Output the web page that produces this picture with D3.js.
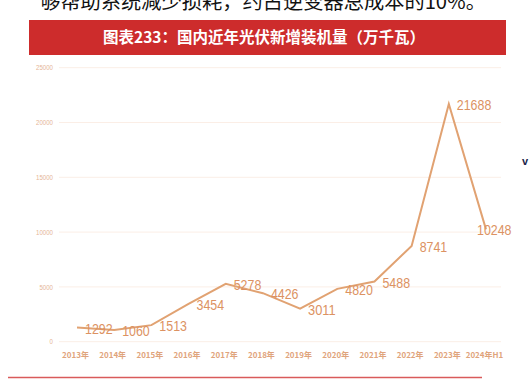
<!DOCTYPE html>
<html>
<head>
<meta charset="utf-8">
<script src="https://cdn.jsdelivr.net/npm/d3@7"></script>
<style>
  body { margin: 0; background: #fff; }
  svg { display: block; }
</style>
</head>
<body>
<div id="chart"></div>
<script>
  // data
  const years = ["2013年", "2014年", "2015年", "2016年", "2017年", "2018年", "2019年",
    "2020年", "2021年", "2022年", "2023年", "2024年H1"];
  const added = [1292, 1060, 1513, 3454, 5278, 4426, 3011, 4820, 5488, 8741, 21688, 10248];
  const yTicks = [0, 5000, 10000, 15000, 20000, 25000];

  const topText = "够帮助系统减少损耗，约占逆变器总成本的10%。";
  const title = "图表233：国内近年光伏新增装机量（万千瓦）";

  const width = 529,
    height = 384,
    margin = { top: 67.7, bottom: 42.3, left: 59, right: 28 };

  const cjk = "'Noto Sans CJK SC', 'Noto Sans', sans-serif";
  const lineColor = "#e1a272";

  const svg = d3.select("#chart")
    .append("svg")
    .attr("width", width)
    .attr("height", height);

  // sentence cut off at the top of the page
  svg.append("text")
    .attr("x", 40)
    .attr("y", 9)
    .attr("font-family", cjk)
    .attr("font-size", 20)
    .attr("fill", "#111")
    .attr("textLength", 446)
    .attr("lengthAdjust", "spacingAndGlyphs")
    .text(topText);

  // red title banner
  svg.append("rect")
    .attr("x", 29)
    .attr("y", 20)
    .attr("width", 477)
    .attr("height", 35)
    .attr("fill", "#cd2c2c");

  svg.append("text")
    .attr("x", 264)
    .attr("y", 38.5)
    .attr("text-anchor", "middle")
    .attr("dominant-baseline", "middle")
    .attr("font-family", cjk)
    .attr("font-weight", "bold")
    .attr("font-size", 15.5)
    .attr("fill", "#fff")
    .text(title);

  // + SCALES
  const xScale = d3.scalePoint()
    .domain(years)
    .range([77, 486]);

  const yScale = d3.scaleLinear()
    .domain([0, 25000])
    .range([height - margin.bottom, margin.top]);

  // grid lines
  svg.append("g")
    .selectAll("line")
    .data(yTicks)
    .join("line")
    .attr("x1", margin.left)
    .attr("x2", 501)
    .attr("y1", d => yScale(d))
    .attr("y2", d => yScale(d))
    .attr("stroke", "#fbeee6")
    .attr("stroke-width", 1);

  // y axis (labels only)
  const yAxis = d3.axisLeft(yScale)
    .tickValues(yTicks)
    .tickFormat(d3.format("d"))
    .tickSize(0)
    .tickPadding(0);

  svg.append("g")
    .attr("class", "axis y-axis")
    .attr("transform", `translate(53,0)`)
    .call(yAxis)
    .call(g => g.select(".domain").remove())
    .call(g => g.selectAll("text")
      .attr("font-family", "'Liberation Sans', sans-serif")
      .attr("font-size", 7)
      .attr("fill", "#e6b597")
      .attr("textLength", d => String(d).length * 3.4)
      .attr("lengthAdjust", "spacingAndGlyphs"));

  // x axis (labels only)
  const xAxis = d3.axisBottom(xScale)
    .tickSize(0)
    .tickPadding(0);

  svg.append("g")
    .attr("class", "axis x-axis")
    .attr("transform", `translate(-2,352)`)
    .call(xAxis)
    .call(g => g.select(".domain").remove())
    .call(g => g.selectAll("text")
      .attr("font-family", cjk)
      .attr("font-weight", "bold")
      .attr("font-size", 8)
      .attr("fill", "#dfa47c"));

  // + LINE
  const lineFunc = d3.line()
    .x((d, i) => xScale(years[i]))
    .y(d => yScale(d))
    .curve(d3.curveLinear);

  svg.append("path")
    .datum(added)
    .attr("d", lineFunc)
    .attr("fill", "none")
    .attr("stroke", lineColor)
    .attr("stroke-width", 2)
    .attr("stroke-linejoin", "miter");

  // value labels (narrow digits, squeezed like the original)
  svg.append("g")
    .selectAll("text")
    .data(added)
    .join("text")
    .attr("x", (d, i) => xScale(years[i]) + (i === added.length - 1 ? -9 : 8))
    .attr("y", d => yScale(d) + 2)
    .attr("dominant-baseline", "middle")
    .attr("font-family", "'Liberation Sans', sans-serif")
    .attr("font-size", 15)
    .attr("fill", "#dc9262")
    .attr("textLength", d => String(d).length * 6.9)
    .attr("lengthAdjust", "spacingAndGlyphs")
    .text(d => d);

  // stray glyph at the right edge
  svg.append("text")
    .attr("x", 522)
    .attr("y", 165)
    .attr("font-family", "'Liberation Sans', sans-serif")
    .attr("font-weight", "bold")
    .attr("font-size", 11)
    .attr("fill", "#1a1f4a")
    .text("v");

  // bottom red rule
  svg.append("line")
    .attr("x1", 8)
    .attr("x2", 482)
    .attr("y1", 377.5)
    .attr("y2", 377.5)
    .attr("stroke", "#d95b5b")
    .attr("stroke-width", 1.5);
</script>
</body>
</html>
